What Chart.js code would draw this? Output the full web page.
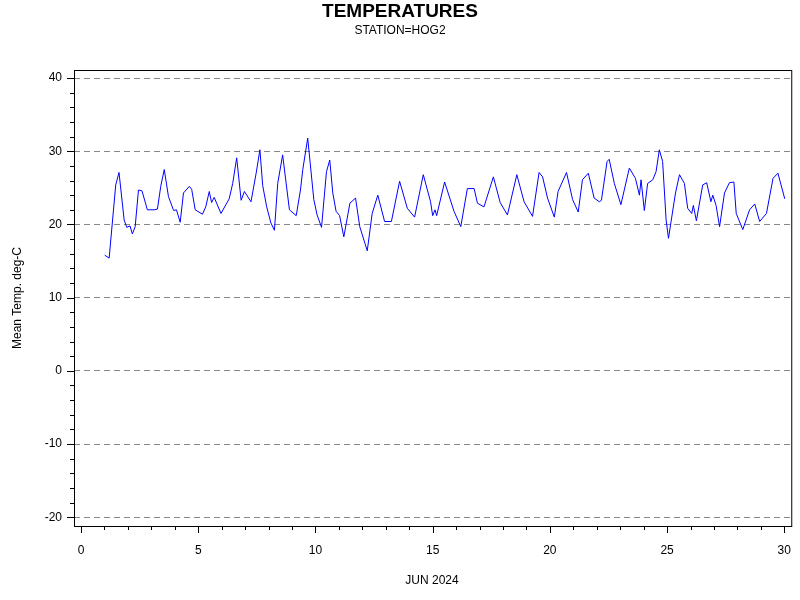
<!DOCTYPE html>
<html><head><meta charset="utf-8">
<script src="https://cdn.jsdelivr.net/npm/chart.js@4/dist/chart.umd.min.js"></script>
<style>body{margin:0;background:#fff}#w{width:800px;height:600px}</style></head>
<body><div id="w"><canvas id="c"></canvas></div>
<script>
const days = [1.01,1.2,1.48,1.62,1.84,1.95,2.09,2.19,2.31,2.45,2.6,2.83,3.12,3.26,3.4,3.55,3.73,3.95,4.07,4.23,4.37,4.62,4.72,4.87,5.18,5.32,5.47,5.57,5.68,5.97,6.18,6.32,6.47,6.64,6.83,6.97,7.25,7.47,7.63,7.75,7.92,8.1,8.25,8.39,8.6,8.89,9.18,9.36,9.46,9.67,9.93,10.07,10.26,10.47,10.61,10.74,10.88,11.03,11.21,11.47,11.71,11.89,12.21,12.42,12.66,12.95,13.24,13.59,13.92,14.23,14.6,14.91,15.0,15.1,15.17,15.51,15.91,16.2,16.48,16.77,16.91,17.19,17.59,17.88,18.19,18.59,18.9,19.26,19.54,19.69,19.9,20.19,20.35,20.71,20.97,21.21,21.39,21.64,21.89,22.11,22.2,22.44,22.53,22.75,23.03,23.39,23.65,23.82,23.89,24.03,24.17,24.39,24.53,24.67,24.81,24.96,25.06,25.2,25.36,25.53,25.74,25.88,26.05,26.12,26.25,26.52,26.69,26.87,26.95,27.09,27.24,27.45,27.66,27.85,27.95,28.23,28.52,28.74,28.95,29.24,29.52,29.73,30.02];
const temps = [15.8,15.4,25.4,27.1,20.6,19.6,19.8,18.7,19.7,24.7,24.6,22.0,22.0,22.1,25.2,27.5,23.8,21.9,22.0,20.3,24.3,25.2,24.8,22.0,21.4,22.4,24.5,23.0,23.7,21.5,22.7,23.5,25.6,29.1,23.3,24.5,23.1,27.0,30.2,25.3,22.4,20.2,19.2,25.6,29.5,22.0,21.2,24.7,27.5,31.8,23.4,21.3,19.6,27.2,28.8,24.3,21.8,21.2,18.3,22.9,23.6,19.7,16.4,21.5,24.0,20.4,20.4,25.9,22.2,21.0,26.8,23.1,21.2,22.0,21.2,25.8,21.8,19.7,24.9,24.9,22.9,22.4,26.5,23.0,21.3,26.8,23.1,21.1,27.1,26.5,23.6,21.0,24.5,27.1,23.4,21.7,26.1,27.0,23.6,23.1,23.3,28.6,28.9,25.6,22.7,27.7,26.3,24.0,26.1,21.9,25.6,26.1,27.2,30.2,28.6,20.6,18.1,21.0,24.3,26.8,25.6,22.2,21.5,22.6,20.5,25.4,25.7,23.1,24.0,22.6,19.7,24.3,25.7,25.8,21.5,19.3,22.0,22.8,20.4,21.5,26.3,27.0,23.5];
const xTicks = [0,5,10,15,20,25,30];
const yTicks = [-20,-10,0,10,20,30,40];
const FONT = 'Arial, "Liberation Sans", sans-serif';

const deco = {
  id:'deco',
  afterDraw(ch){
    const c=ch.ctx, a=ch.chartArea, xs=ch.scales.x, ys=ch.scales.y;
    c.save();
    c.strokeStyle='#000'; c.lineWidth=1;
    c.strokeRect(a.left+0.5,a.top+0.5,a.right-a.left-1,a.bottom-a.top);
    c.beginPath();
    for(let v=-20;v<=40;v+=2){const y=Math.round(ys.getPixelForValue(v))+0.5;const L=(v%10===0)?7:4;c.moveTo(a.left-L,y);c.lineTo(a.left,y);}
    for(let d=0;d<=30;d++){const x=Math.round(xs.getPixelForValue(d))+0.5;const L=(d%5===0)?7:4;c.moveTo(x,a.bottom);c.lineTo(x,a.bottom+L);}
    c.stroke();
    c.fillStyle='#000'; c.textAlign='center'; c.textBaseline='middle';
    c.font='bold 19px '+FONT; c.fillText('TEMPERATURES',400,12);
    c.font='12px '+FONT; c.fillText('STATION=HOG2',400,31);
    c.fillText('JUN 2024',432,581);
    c.translate(18,298); c.rotate(-Math.PI/2); c.fillText('Mean Temp. deg-C',0,0);
    c.restore();
  }
};

new Chart(document.getElementById('c'),{
  type:'line',
  data:{datasets:[{data:days.map((d,i)=>({x:d,y:temps[i]})),borderColor:'#0000ff',borderWidth:1,pointRadius:0,tension:0}]},
  options:{
    responsive:true,maintainAspectRatio:false,animation:false,
    layout:{padding:{top:70,right:4,left:0,bottom:0}},
    plugins:{legend:{display:false},tooltip:{enabled:false}},
    scales:{
      x:{type:'linear',min:-0.3,max:30.34,
        afterBuildTicks:s=>{s.ticks=xTicks.map(v=>({value:v}));},
        afterFit:s=>{s.height=74;},
        grid:{display:false},border:{display:false},
        ticks:{color:'#000',font:{size:12,family:FONT},padding:9,maxRotation:0}},
      y:{type:'linear',min:-21.2,max:41.1,
        afterBuildTicks:s=>{s.ticks=yTicks.map(v=>({value:v}));},
        afterFit:s=>{s.width=74;},
        grid:{color:'#888',drawTicks:false,lineWidth:1},border:{display:false,dash:[6,4]},
        ticks:{color:'#000',font:{size:12,family:FONT},padding:12}}
    }
  },
  plugins:[deco]
});
</script></body></html>
